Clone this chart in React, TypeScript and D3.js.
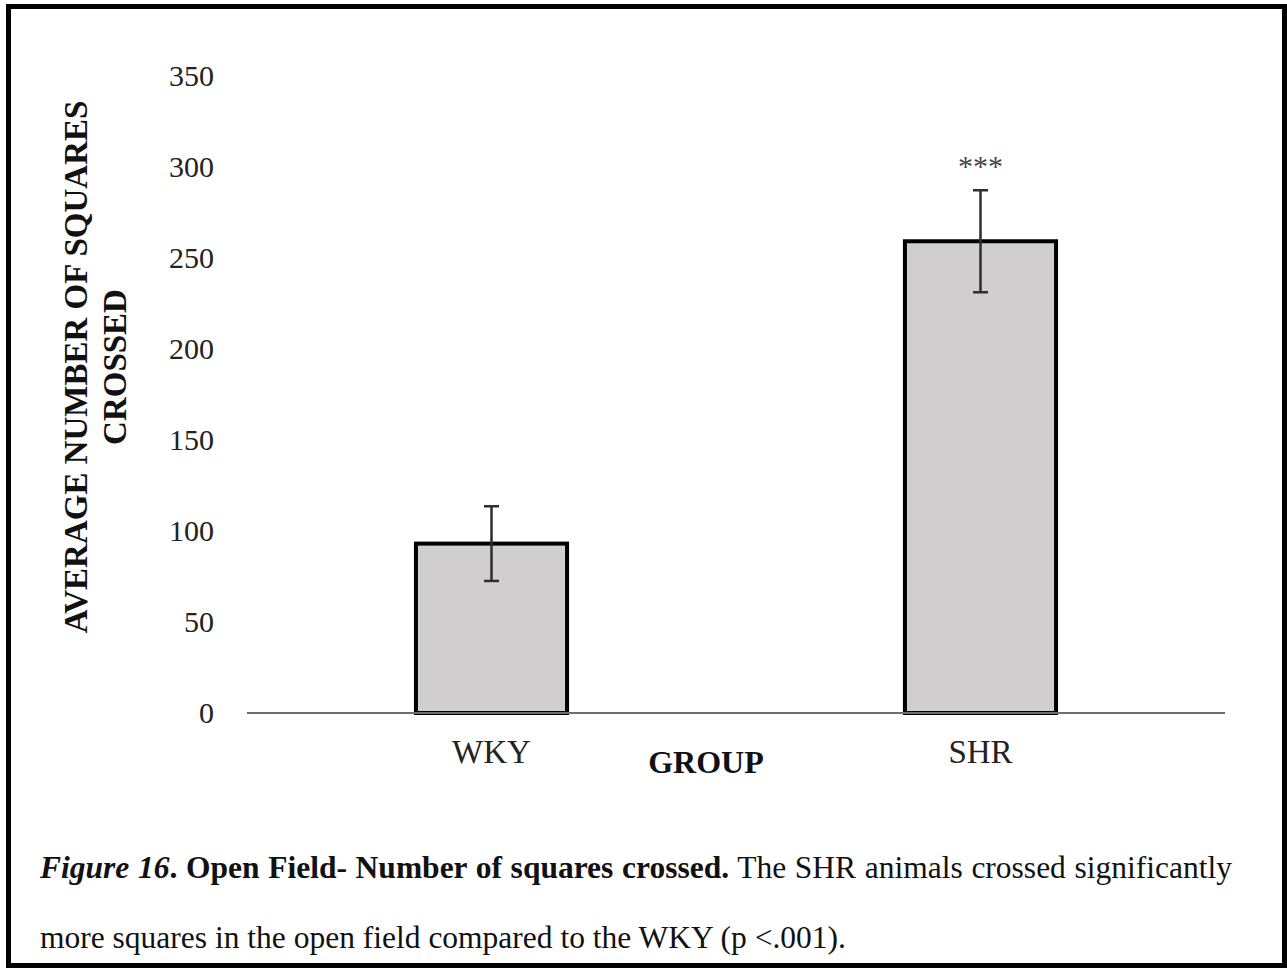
import React from "react";
import * as d3 from "d3";

const groups = ["WKY", "SHR"];
const means = [93, 259];
const errors = [20.5, 28];
const significance = ["", "***"];
const yTicks = [0, 50, 100, 150, 200, 250, 300, 350];
const yTitleLines = ["AVERAGE NUMBER OF SQUARES", "CROSSED"];
const xTitle = "GROUP";

const W = 1287;
const H = 968;
const FONT = "'Liberation Serif', 'Times New Roman', serif";

export default function App() {
  const y = d3.scaleLinear().domain([0, 350]).range([713, 75.5]);
  const x = d3.scaleBand<string>().domain(groups).range([247, 1225]).paddingInner(0).paddingOuter(0);
  const barW = x.bandwidth() * 0.309;
  const capW = 15;

  return (
    <svg width={W} height={H} style={{ position: "absolute", left: 0, top: 0, display: "block", background: "#fff" }}>
      <rect x={8.5} y={6.5} width={1276} height={959} fill="#fff" stroke="#000" strokeWidth={5} />

      {/* y tick labels */}
      {yTicks.map((t) => (
        <text key={t} x={214} y={y(t)} dy="0.34em" textAnchor="end" fontFamily={FONT} fontSize={30} fill="#222">
          {t}
        </text>
      ))}

      {/* y axis title */}
      <g transform="translate(96,367) rotate(-90)" fontFamily={FONT} fontWeight="bold" fontSize={33} fill="#111">
        {yTitleLines.map((l, i) => (
          <text key={i} x={0} y={-9 + i * 39} textAnchor="middle">
            {l}
          </text>
        ))}
      </g>

      {/* bars */}
      {groups.map((g, i) => {
        const cx = (x(g) as number) + x.bandwidth() / 2;
        return (
          <rect
            key={g}
            x={cx - barW / 2}
            y={y(means[i])}
            width={barW}
            height={y(0) - y(means[i])}
            fill="#d0cecf"
            stroke="#000"
            strokeWidth={4}
          />
        );
      })}

      {/* x axis line */}
      <line x1={247} x2={1225} y1={y(0)} y2={y(0)} stroke="#6e6e6e" strokeWidth={2} />

      {/* error bars */}
      {groups.map((g, i) => {
        const cx = (x(g) as number) + x.bandwidth() / 2;
        const top = y(means[i] + errors[i]);
        const bot = y(means[i] - errors[i]);
        return (
          <g key={g + "e"} stroke="#2e2e2e" strokeWidth={2.5}>
            <line x1={cx} x2={cx} y1={top} y2={bot} />
            <line x1={cx - capW / 2} x2={cx + capW / 2} y1={top} y2={top} />
            <line x1={cx - capW / 2} x2={cx + capW / 2} y1={bot} y2={bot} />
          </g>
        );
      })}

      {/* significance */}
      {groups.map((g, i) => {
        const cx = (x(g) as number) + x.bandwidth() / 2;
        return significance[i] ? (
          <text key={g + "s"} x={cx} y={y(means[i] + errors[i]) - 14} textAnchor="middle" fontFamily={FONT} fontSize={30} fill="#444">
            {significance[i]}
          </text>
        ) : null;
      })}

      {/* x labels */}
      {groups.map((g) => (
        <text key={g + "l"} x={(x(g) as number) + x.bandwidth() / 2} y={763} textAnchor="middle" fontFamily={FONT} fontSize={33} fill="#222">
          {g}
        </text>
      ))}
      <text x={706} y={773} textAnchor="middle" fontFamily={FONT} fontSize={32} fontWeight="bold" fill="#111">
        {xTitle}
      </text>

      {/* caption */}
      <text x={40} y={878} fontFamily={FONT} fontSize={31.5} fill="#111" wordSpacing={0.8}>
        <tspan fontStyle="italic" fontWeight="bold">Figure 16</tspan>
        <tspan fontWeight="bold">. Open Field- Number of squares crossed.</tspan>
        <tspan> The SHR animals crossed significantly</tspan>
      </text>
      <text x={40} y={948} fontFamily={FONT} fontSize={31.5} fill="#111">
        more squares in the open field compared to the WKY (p &lt;.001).
      </text>
    </svg>
  );
}
